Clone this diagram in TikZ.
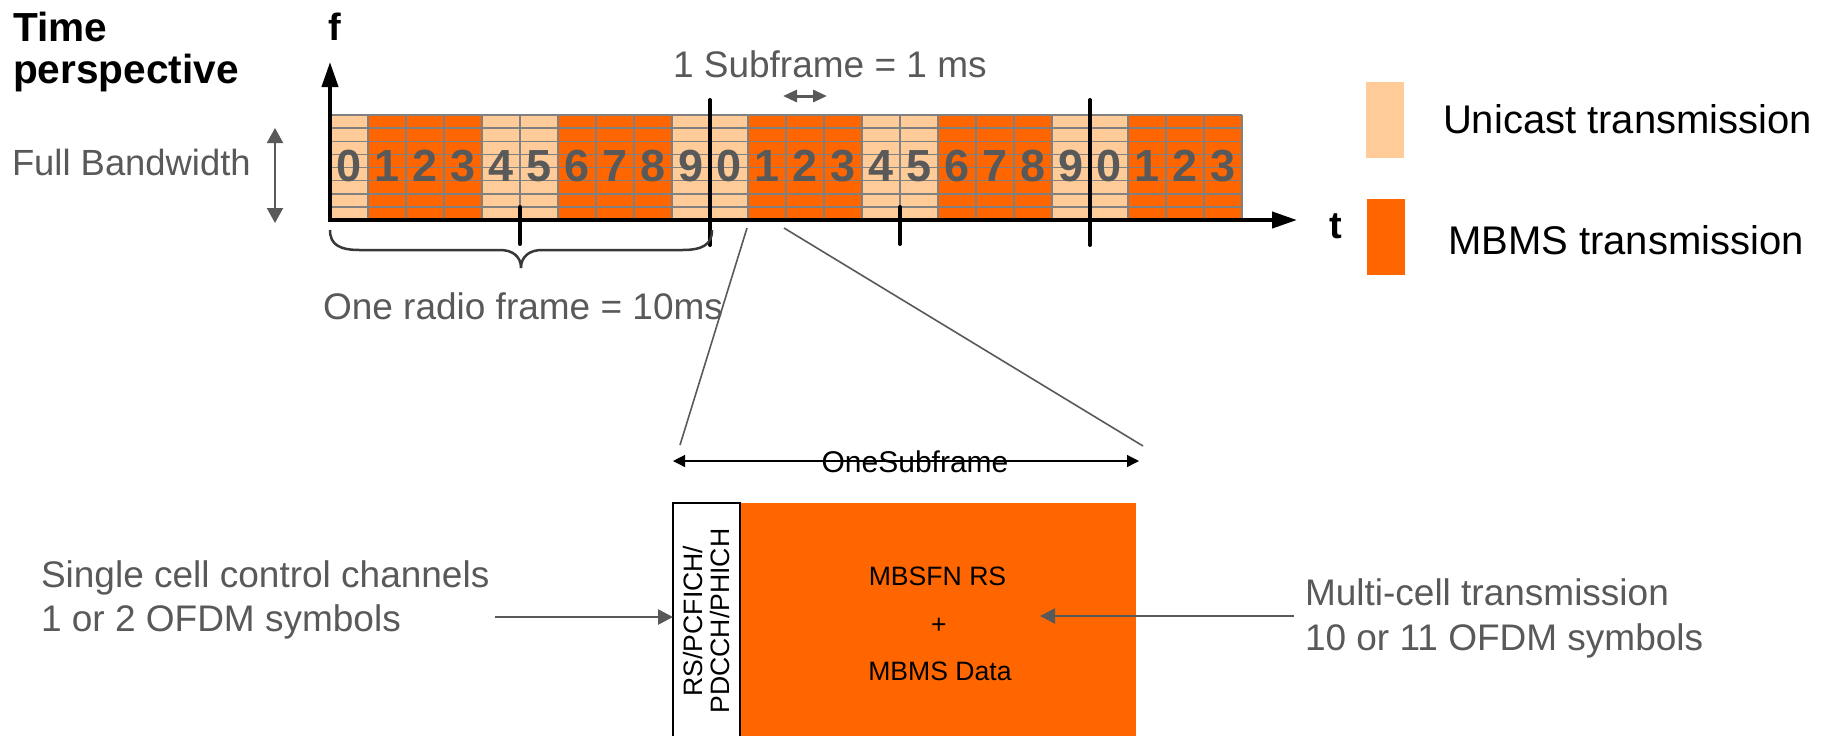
\documentclass[tikz,border=0pt]{standalone}
\usepackage{fontspec}
\setmainfont{Liberation Sans}
\usetikzlibrary{arrows.meta,calc}
\definecolor{unicast}{HTML}{FFCC99}
\definecolor{mbms}{HTML}{FF6600}
\definecolor{gridgray}{HTML}{808080}
\definecolor{textgray}{HTML}{595959}
\definecolor{bracegray}{HTML}{383838}
\begin{document}
\begin{tikzpicture}[x=0.5pt,y=-0.5pt,
  every node/.style={inner sep=0pt,outer sep=0pt},
  lbl/.style={anchor=base west,text=textgray,font=\fontsize{18.5}{22}\selectfont},
  bigbold/.style={anchor=base west,font=\fontsize{20.3}{21}\selectfont\bfseries},
  digit/.style={text=textgray,font=\fontsize{22.5}{23}\selectfont\bfseries},
  legend/.style={anchor=base west,font=\fontsize{20}{22}\selectfont},
  small/.style={font=\fontsize{13.3}{13.5}\selectfont},
  gridline/.style={gridgray,line width=0.75pt},
  axisline/.style={line width=2pt,{Triangle[length=12.5pt,width=8pt]}-{Triangle[length=12.5pt,width=8pt]}},
  frameline/.style={line width=2pt,line cap=round},
  zoomline/.style={textgray,line width=0.8pt},
  callout/.style={textgray,line width=1.3pt,-{Triangle[length=7.5pt,width=7.5pt]}},
  bwarrow/.style={textgray,line width=1pt,{Triangle[length=7.5pt,width=8pt]}-{Triangle[length=7.5pt,width=8pt]}},
  subarrow/.style={textgray,line width=1.5pt,{Triangle[length=7pt,width=6pt]}-{Triangle[length=7pt,width=6pt]}},
  spanarrow/.style={black,line width=0.6pt,{Triangle[length=6pt,width=6pt]}-{Triangle[length=6pt,width=6pt]}}]
\useasboundingbox (0,0) rectangle (1825,736);

% subframe cells: three radio frames (the last one cut after subframe 3)
\foreach \i in {0,...,23}{
  \pgfmathtruncatemacro\dg{mod(\i,10)}
  \pgfmathtruncatemacro\isu{(\dg==0)||(\dg==4)||(\dg==5)||(\dg==9)}
  \ifnum\isu=1 \def\cc{unicast}\else\def\cc{mbms}\fi
  \fill[\cc] (330+38*\i,115) rectangle (368+38*\i,220);
}
% resource grid
\foreach \k in {0,...,7}
  \draw[gridline] (330,115+13.125*\k) -- (1242,115+13.125*\k);
\foreach \i in {1,...,24}
  \draw[gridline] (330+38*\i,115) -- (330+38*\i,220);
% subframe numbers
\foreach \i in {0,...,23}{
  \pgfmathtruncatemacro\dg{mod(\i,10)}
  \node[digit] (dig\i) at (349+38*\i,166) {\dg};
}

% axes
\draw[axisline] (330,62) -- (330,220) -- (1297,220);
\node[bigbold,font=\fontsize{19}{20}\selectfont\bfseries] (flabel) at (328,40) {f};
\node[bigbold,font=\fontsize{19}{20}\selectfont\bfseries] (tlabel) at (1329,238) {t};

% radio frame boundaries and half-frame ticks
\draw[frameline] (710,100) -- (710,245);
\draw[frameline] (1090,100) -- (1090,245);
\draw[frameline] (520,207) -- (520,244);
\draw[frameline] (900,207) -- (900,244);

% title and bandwidth
\node[bigbold] (title1) at (13,41.5) {Time};
\node[bigbold] (title2) at (13,83) {perspective};
\node[lbl,font=\fontsize{18.2}{20}\selectfont] (fullbw) at (12,175) {Full Bandwidth};
\coordinate (bwtop) at (275,128);
\coordinate (bwbot) at (275,223);
\draw[bwarrow] (bwtop) -- (bwbot);

% subframe duration
\node[lbl] (subms) at (673,77) {1 Subframe = 1 ms};
\coordinate (sfa) at (783,96);
\coordinate (sfb) at (827,96);
\draw[subarrow] (sfa) -- (sfb);

% radio frame brace
\draw[bracegray,line width=1.25pt]
  (330,230) .. controls (330,245) and (340,250) .. (360,250) -- (500,250)
  .. controls (512,250) and (521,256) .. (521,268)
  .. controls (521,256) and (530,250) .. (542,250) -- (682,250)
  .. controls (702,250) and (712,245) .. (712,230);
\node[lbl] (radio) at (323,319) {One radio frame = 10ms};

% legend
\fill[unicast] (1366,82) rectangle (1404,158);
\fill[mbms] (1367,199) rectangle (1405,275);
\node[legend] (legU) at (1443,133) {Unicast transmission};
\node[legend] (legM) at (1448,254) {MBMS transmission};

% zoom into one subframe
\coordinate (zl1) at (747,228);
\coordinate (zl2) at (784,228);
\coordinate (osL) at (680,445);
\coordinate (osR) at (1143,446);
\draw[zoomline] (zl1) -- (osL);
\draw[zoomline] (zl2) -- (osR);

\coordinate (osa) at (673,461);
\coordinate (osb) at (1139,461);
\draw[spanarrow] (osa) -- (osb);
\node[anchor=base,font=\fontsize{15}{16}\selectfont] (onesub) at (915,472) {OneSubframe};

% subframe structure
\fill[mbms] (740,503) rectangle (1136,736);
\fill[white] (673,503) rectangle (740,736);
\draw[black,line width=0.6pt] (673,736) -- (673,503) -- (740,503) -- (740,736);
\node[small,rotate=90,align=center] (ctrl) at (706.5,621) {RS/PCFICH/\\PDCCH/PHICH};
\node[small,anchor=base] (mbsfn) at (937.5,585.7) {MBSFN RS};
\node[small,anchor=base] (plus) at (939,633) {+};
\node[small,anchor=base] (mdata) at (940,680) {MBMS Data};

% callouts
\node[lbl] (single1) at (41,587) {Single cell control channels};
\node[lbl] (single2) at (41,631) {1 or 2 OFDM symbols};
\node[lbl] (multi1) at (1305,605) {Multi-cell transmission};
\node[lbl] (multi2) at (1305,650) {10 or 11 OFDM symbols};
\coordinate (singleE) at (495,617);
\coordinate (ctrlL) at (673,617);
\coordinate (multiW) at (1294,616);
\coordinate (dataP) at (1040,616);
\draw[callout] (singleE) -- (ctrlL);
\draw[callout] (multiW) -- (dataP);
\end{tikzpicture}
\end{document}
